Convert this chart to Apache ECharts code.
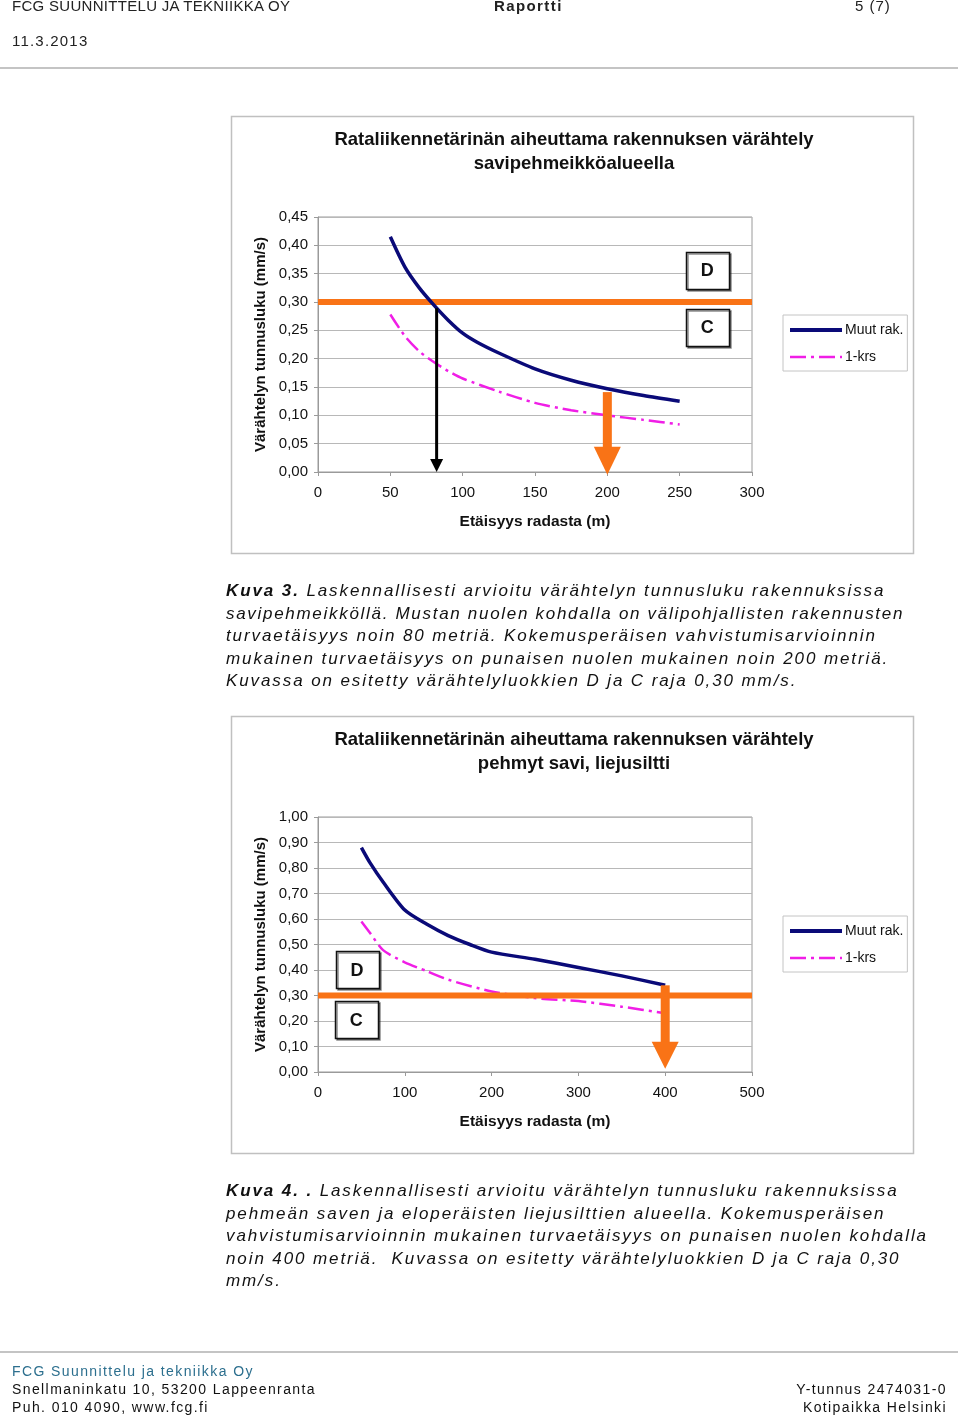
<!DOCTYPE html>
<html>
<head>
<meta charset="utf-8">
<script src="https://cdn.jsdelivr.net/npm/echarts@6/dist/echarts.min.js"></script>
<style>
html,body{margin:0;padding:0;background:#fff;}
#page{position:relative;width:960px;height:1416px;overflow:hidden;font-family:"Liberation Sans",Arial,sans-serif;}
#chart{position:absolute;left:0;top:0;width:960px;height:1416px;}
.t{position:absolute;white-space:nowrap;color:#111;}
.hdr{font-size:15px;line-height:18px;letter-spacing:0.3px;color:#222;}
.cap{font-style:italic;font-size:17px;line-height:22.5px;letter-spacing:1.9px;left:226px;color:#111;}
.foot{font-size:14px;line-height:18px;letter-spacing:1.4px;color:#111;}
.rule{position:absolute;left:0;width:958px;height:0;border-top:2px solid #c4c4c4;}
</style>
</head>
<body>
<div id="page">
  <div id="chart"></div>
  <div class="t hdr" style="left:12px;top:-3px;">FCG SUUNNITTELU JA TEKNIIKKA OY</div>
  <div class="t hdr" style="left:494px;top:-3px;font-weight:bold;letter-spacing:1.4px;">Raportti</div>
  <div class="t hdr" style="left:855px;top:-3px;letter-spacing:1px;">5 (7)</div>
  <div class="t hdr" style="left:12px;top:32px;letter-spacing:1.2px;font-size:15px;">11.3.2013</div>
  <div class="rule" style="top:67px;"></div>

  <div class="t cap" style="top:580px;"><b>Kuva 3.</b> Laskennallisesti arvioitu värähtelyn tunnusluku rakennuksissa<br><span style="letter-spacing:1.7px">savipehmeikköllä. Mustan nuolen kohdalla on välipohjallisten rakennusten</span><br>turvaetäisyys noin 80 metriä. Kokemusperäisen vahvistumisarvioinnin<br>mukainen turvaetäisyys on punaisen nuolen mukainen noin 200 metriä.<br>Kuvassa on esitetty värähtelyluokkien D ja C raja 0,30 mm/s.</div>

  <div class="t cap" style="top:1180px;"><b>Kuva 4. .</b> Laskennallisesti arvioitu värähtelyn tunnusluku rakennuksissa<br>pehmeän saven ja eloperäisten liejusilttien alueella. Kokemusperäisen<br>vahvistumisarvioinnin mukainen turvaetäisyys on punaisen nuolen kohdalla<br>noin 400 metriä.&nbsp; Kuvassa on esitetty värähtelyluokkien D ja C raja 0,30<br>mm/s.</div>

  <div class="rule" style="top:1351px;"></div>
  <div class="t foot" style="left:12px;top:1362px;color:#2c6f8e;">FCG Suunnittelu ja tekniikka Oy</div>
  <div class="t foot" style="left:12px;top:1380px;">Snellmaninkatu 10, 53200 Lappeenranta</div>
  <div class="t foot" style="left:12px;top:1398px;">Puh. 010 4090, www.fcg.fi</div>
  <div class="t foot" style="right:13px;top:1380px;">Y-tunnus 2474031-0</div>
  <div class="t foot" style="right:13px;top:1398px;">Kotipaikka Helsinki</div>
</div>

<script>
// ---------- Data ----------
// Chart 1: savipehmeikköalue
const dist1Muut = [50, 60, 70, 80, 90, 100, 110, 125, 150, 175, 200, 225, 250];
const vib1Muut  = [0.415, 0.362, 0.325, 0.295, 0.268, 0.245, 0.229, 0.210, 0.182, 0.162, 0.147, 0.135, 0.125];
const dist1Krs  = [50, 60, 70, 80, 90, 100, 125, 150, 175, 200, 225, 250];
const vib1Krs   = [0.278, 0.240, 0.213, 0.194, 0.178, 0.165, 0.142, 0.122, 0.109, 0.100, 0.092, 0.084];
const limit1X   = [0, 300];
const limitY    = 0.30;
const blackArrow1  = [[82, 0.289, 0]];        // x, top, tip
const orangeArrow1 = [[200, 0.141, -0.005]];
const boxX1 = [269, 269];
const boxY1 = [0.356, 0.255];
const boxText = ['D', 'C'];

// Chart 2: pehmyt savi, liejusiltti
const dist2Muut = [50, 60, 75, 100, 125, 150, 175, 200, 250, 300, 350, 400];
const vib2Muut  = [0.88, 0.82, 0.745, 0.635, 0.58, 0.535, 0.50, 0.47, 0.442, 0.41, 0.377, 0.34];
const dist2Krs  = [50, 60, 75, 100, 125, 150, 200, 250, 300, 350, 400];
const vib2Krs   = [0.59, 0.545, 0.478, 0.43, 0.396, 0.362, 0.316, 0.29, 0.278, 0.256, 0.23];
const limit2X   = [0, 500];
const orangeArrow2 = [[400, 0.34, 0.013]];
const boxX2 = [45, 44];
const boxY2 = [0.401, 0.205];

const seriesNames = ['Muut rak.', '1-krs'];
const titleLine1 = 'Rataliikennetärinän aiheuttama rakennuksen värähtely';
const title1Line2 = 'savipehmeikköalueella';
const title2Line2 = 'pehmyt savi, liejusiltti';
const yName = 'Värähtelyn tunnusluku (mm/s)';
const xName = 'Etäisyys radasta (m)';

// ---------- Styles ----------
const FONT = '"Liberation Sans", Arial, sans-serif';
const NAVY = '#0a0a78';
const MAGENTA = '#f01ee6';
const ORANGE = '#f97316';
const GRID_C = '#b8b8b8';
const AXIS_C = '#9a9a9a';
const KRS_DASH = [16, 5, 3, 5];

const zip = (a, b) => a.map((v, i) => [v, b[i]]);

function yAxisCfg(gi, max, interval) {
  return {
    type: 'value', gridIndex: gi, min: 0, max: max, interval: interval,
    name: yName, nameLocation: 'middle', nameGap: 50, nameRotate: 90,
    nameTextStyle: { fontFamily: FONT, fontWeight: 'bold', fontSize: 15, color: '#111' },
    axisLine: { show: true, lineStyle: { color: AXIS_C, width: 1 } },
    axisTick: { show: true, length: 4, lineStyle: { color: AXIS_C } },
    splitLine: { show: true, lineStyle: { color: GRID_C, width: 1 } },
    axisLabel: { margin: 10, fontFamily: FONT, fontSize: 15, color: '#111',
      formatter: v => v.toFixed(2).replace('.', ',') }
  };
}
function xAxisCfg(gi, max, interval) {
  return {
    type: 'value', gridIndex: gi, min: 0, max: max, interval: interval,
    name: xName, nameLocation: 'middle', nameGap: 42,
    nameTextStyle: { fontFamily: FONT, fontWeight: 'bold', fontSize: 15.5, color: '#111' },
    axisLine: { show: true, onZero: false, lineStyle: { color: AXIS_C, width: 1 } },
    axisTick: { show: true, length: 4, lineStyle: { color: AXIS_C } },
    splitLine: { show: false },
    axisLabel: { margin: 13, fontFamily: FONT, fontSize: 15, color: '#111' }
  };
}

function curve(name, ai, xs, ys, isKrs) {
  return {
    type: 'line', name: name, xAxisIndex: ai, yAxisIndex: ai,
    data: zip(xs, ys), symbol: 'none', smooth: 0.25, silent: true,
    z: isKrs ? 2 : 4,
    itemStyle: { color: isKrs ? MAGENTA : NAVY },
    lineStyle: isKrs ? { color: MAGENTA, width: 2.5, type: KRS_DASH }
                     : { color: NAVY, width: 3.5 }
  };
}
function limitLine(ai, xs) {
  return {
    type: 'line', name: 'raja', xAxisIndex: ai, yAxisIndex: ai,
    data: xs.map(x => [x, limitY]), symbol: 'none', silent: true, z: 3,
    lineStyle: { color: ORANGE, width: 6, cap: 'butt' }
  };
}
function arrowSeries(ai, data, color, shaftW, headW, headH) {
  return {
    type: 'custom', name: 'arrow', xAxisIndex: ai, yAxisIndex: ai, z: 5, silent: true,
    data: data, encode: { x: 0, y: [1, 2] },
    renderItem: function (params, api) {
      const top = api.coord([api.value(0), api.value(1)]);
      const tip = api.coord([api.value(0), api.value(2)]);
      const cx = top[0];
      const baseY = tip[1] - headH;
      return {
        type: 'group',
        children: [
          { type: 'rect', shape: { x: cx - shaftW / 2, y: top[1], width: shaftW, height: baseY - top[1] + 1 },
            style: { fill: color } },
          { type: 'polygon', shape: { points: [[cx - headW / 2, baseY], [cx + headW / 2, baseY], [cx, tip[1]]] },
            style: { fill: color } }
        ]
      };
    }
  };
}
function boxSeries(ai, xs, ys) {
  return {
    type: 'custom', name: 'box', xAxisIndex: ai, yAxisIndex: ai, z: 6, silent: true,
    data: zip(xs, ys), encode: { x: 0, y: 1 },
    renderItem: function (params, api) {
      const p = api.coord([api.value(0), api.value(1)]);
      const w = 43, h = 37;
      return {
        type: 'group',
        children: [
          { type: 'rect', shape: { x: Math.round(p[0] - w / 2) + 0.5, y: Math.round(p[1] - h / 2) + 0.5, width: w, height: h },
            style: { fill: '#fff', stroke: '#111', lineWidth: 1.5,
              shadowColor: 'rgba(0,0,0,0.45)', shadowOffsetX: 1.5, shadowOffsetY: 1.5, shadowBlur: 0 } },
          { type: 'text', x: p[0], y: p[1] + 1,
            style: { text: boxText[params.dataIndex], align: 'center', verticalAlign: 'middle',
              font: 'bold 18px ' + FONT, fill: '#111' } }
        ]
      };
    }
  };
}
function legendCfg(top) {
  return {
    data: [
      { name: seriesNames[0], itemStyle: { opacity: 0 }, lineStyle: { color: NAVY, width: 4, type: 'solid' } },
      { name: seriesNames[1], itemStyle: { opacity: 0 }, lineStyle: { color: MAGENTA, width: 2.5, type: KRS_DASH } }
    ],
    orient: 'vertical', left: 783, top: top,
    itemWidth: 52, itemHeight: 14, itemGap: 13,
    padding: [8, 4, 7, 5],
    backgroundColor: '#fff', borderColor: '#c4c4c4', borderWidth: 1,
    selectedMode: false,
    itemStyle: { opacity: 0 },
    textStyle: { fontFamily: FONT, fontSize: 14, color: '#111', padding: [0, 0, 0, -2] }
  };
}
function frame(x, y, w, h) {
  return { type: 'rect', shape: { x: x + 0.5, y: y + 0.5, width: w, height: h },
    style: { fill: null, stroke: '#c0c0c0', lineWidth: 1.5 }, silent: true };
}
function titleText(y, text) {
  return { type: 'text', x: 574, y: y,
    style: { text: text, align: 'center', verticalAlign: 'middle', font: 'bold 18.5px ' + FONT, fill: '#111' },
    silent: true };
}

const chart = echarts.init(document.getElementById('chart'), null, { renderer: 'canvas' });
chart.setOption({
  animation: false,
  backgroundColor: '#fff',
  grid: [
    { left: 318, top: 217, width: 434, height: 255, show: true, borderColor: AXIS_C, borderWidth: 1 },
    { left: 318, top: 817, width: 434, height: 255, show: true, borderColor: AXIS_C, borderWidth: 1 }
  ],
  xAxis: [xAxisCfg(0, 300, 50), xAxisCfg(1, 500, 100)],
  yAxis: [yAxisCfg(0, 0.45, 0.05), yAxisCfg(1, 1.0, 0.1)],
  legend: [legendCfg(315), legendCfg(916)],
  graphic: [
    frame(231, 116, 682, 437),
    frame(231, 716, 682, 437),
    titleText(140, titleLine1),
    titleText(164, title1Line2),
    titleText(740, titleLine1),
    titleText(764, title2Line2)
  ],
  series: [
    curve('1-krs', 0, dist1Krs, vib1Krs, true),
    limitLine(0, limit1X),
    curve('Muut rak.', 0, dist1Muut, vib1Muut, false),
    arrowSeries(0, blackArrow1, '#000', 3, 13, 13),
    arrowSeries(0, orangeArrow1, ORANGE, 9, 27, 28),
    boxSeries(0, boxX1, boxY1),

    curve('1-krs', 1, dist2Krs, vib2Krs, true),
    limitLine(1, limit2X),
    curve('Muut rak.', 1, dist2Muut, vib2Muut, false),
    arrowSeries(1, orangeArrow2, ORANGE, 9, 27, 27),
    boxSeries(1, boxX2, boxY2)
  ]
});
</script>
</body>
</html>
